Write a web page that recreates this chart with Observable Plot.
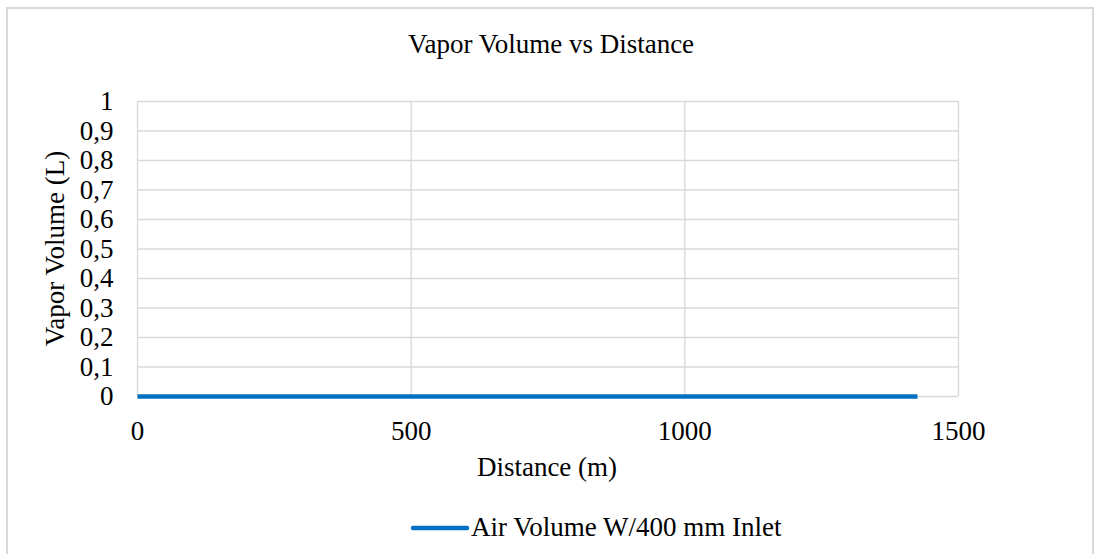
<!DOCTYPE html>
<html>
<head>
<meta charset="utf-8">
<script src="https://cdn.jsdelivr.net/npm/d3@7"></script>
<script src="https://cdn.jsdelivr.net/npm/@observablehq/plot@0.6"></script>
<style>
  html, body { margin: 0; padding: 0; background: #fff; overflow: hidden; }
  #wrap { position: relative; width: 1098px; height: 554px; font-family: "Liberation Serif", "Times New Roman", serif; color: #000; }
  #frame { position: absolute; left: 6px; top: 7px; width: 1088px; height: 600px; border: 2px solid #d9d9d9; box-sizing: border-box; }
  #chart { position: absolute; left: 0; top: 0; }
  .txt { position: absolute; font-size: 27px; line-height: 27px; white-space: nowrap; }
  #title { left: 351px; width: 400px; text-align: center; top: 31px; }
  #xlabel { left: 397px; width: 300px; text-align: center; top: 454px; }
  #ylabel { left: -95px; width: 300px; text-align: center; top: 235px; font-size: 27px; line-height: 27px; transform: rotate(-90deg); transform-origin: 150px 13.5px; }
  #legend { left: 410px; top: 514px; display: flex; align-items: center; }
  #legend svg { display: block; margin-right: 1px; }
</style>
</head>
<body>
<div id="wrap">
  <div id="frame"></div>
  <div id="chart"></div>
  <div class="txt" id="title"></div>
  <div class="txt" id="xlabel"></div>
  <div class="txt" id="ylabel"></div>
  <div class="txt" id="legend"></div>
</div>
<script>
const chartTitle = "Vapor Volume vs Distance";
const xTitle = "Distance (m)";
const yTitle = "Vapor Volume (L)";
const seriesName = "Air Volume W/400 mm Inlet";

const distance = [0, 1425];
const vaporVolume = [0, 0];

const xTicks = [0, 500, 1000, 1500];
const xTickLabels = ["0", "500", "1000", "1500"];
const yTicks = [0, 0.1, 0.2, 0.3, 0.4, 0.5, 0.6, 0.7, 0.8, 0.9, 1];
const yTickLabels = ["0", "0,1", "0,2", "0,3", "0,4", "0,5", "0,6", "0,7", "0,8", "0,9", "1"];

const lineColor = "#0070C0";
const gridColor = "#d9d9d9";

const data = distance.map((d, i) => ({distance: d, volume: vaporVolume[i]}));

const plot = Plot.plot({
  width: 1098,
  height: 554,
  marginLeft: 137,
  marginRight: 140,
  marginTop: 101,
  marginBottom: 158,
  style: {background: "transparent", fontFamily: "Liberation Serif, Times New Roman, serif", fontSize: "27px", color: "#000"},
  x: {domain: [0, 1500]},
  y: {domain: [0, 1]},
  marks: [
    Plot.gridY(yTicks, {stroke: gridColor, strokeOpacity: 1, strokeWidth: 1.3}),
    Plot.gridX(xTicks, {stroke: gridColor, strokeOpacity: 1, strokeWidth: 1.3}),
    Plot.axisY(yTicks, {tickSize: 0, tickPadding: 24, label: null, fontSize: 27,
      tickFormat: d => yTickLabels[yTicks.indexOf(d)]}),
    Plot.axisX(xTicks, {tickSize: 0, tickPadding: 24, label: null, fontSize: 27,
      tickFormat: d => xTickLabels[xTicks.indexOf(d)]}),
    Plot.line(data, {x: "distance", y: "volume", stroke: lineColor, strokeWidth: 4.5, strokeLinecap: "butt"})
  ]
});
document.getElementById("chart").appendChild(plot);

document.getElementById("title").textContent = chartTitle;
document.getElementById("xlabel").textContent = xTitle;
document.getElementById("ylabel").textContent = yTitle;

const leg = document.getElementById("legend");
leg.innerHTML = `<svg width="60" height="10"><line x1="3" y1="5" x2="57" y2="5" stroke="${lineColor}" stroke-width="4.5" stroke-linecap="round"/></svg>`;
const span = document.createElement("span");
span.textContent = seriesName;
leg.appendChild(span);
</script>
</body>
</html>
